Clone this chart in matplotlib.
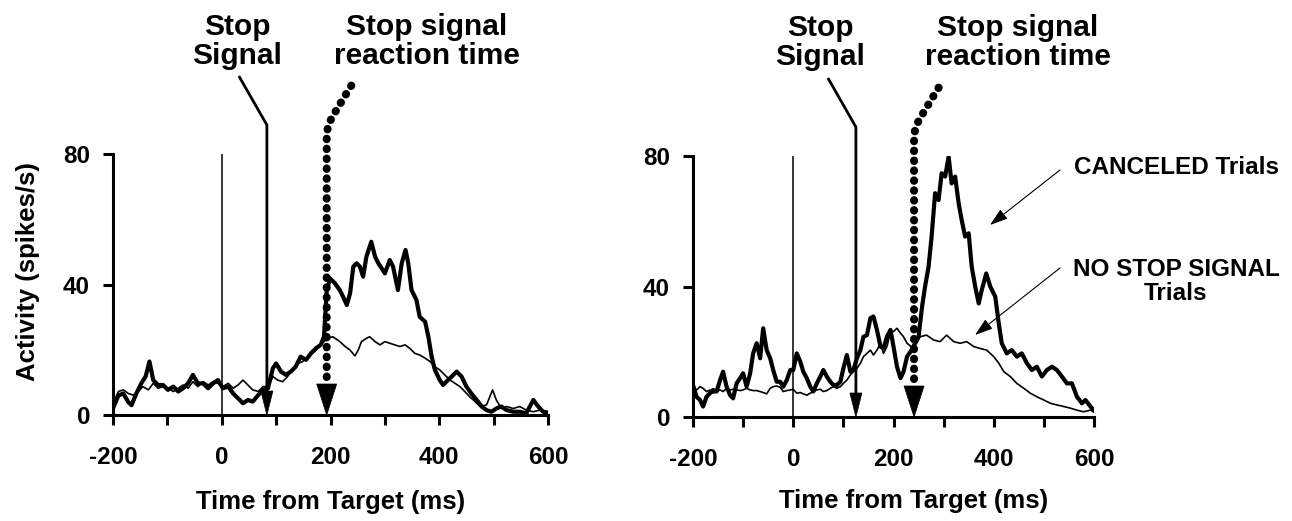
import matplotlib
matplotlib.use("Agg")
import matplotlib.pyplot as plt
from matplotlib.transforms import ScaledTranslation
from matplotlib.patches import Polygon, FancyArrowPatch
from matplotlib.lines import Line2D

plt.rcParams['font.family'] = ['Liberation Sans', 'DejaVu Sans']
plt.rcParams['font.weight'] = 'bold'

# ---------------- data ----------------
# Left panel: CANCELED trials (thick) and NO STOP SIGNAL trials (thin)
left_canc_t = [-200, -190, -181, -172, -166, -157, -148, -140, -133, -126, -117, -108, -99, -89, -80, -71,
               -62, -53, -44, -34, -25, -16, -7, 2, 12, 21, 30, 39, 48, 57, 67, 76, 85, 94, 100, 109, 118,
               127, 136, 145, 155, 164, 173, 182, 188, 193, 199, 208, 217, 223, 230, 236, 242, 248, 254,
               260, 266, 275, 282, 288, 294, 300, 309, 315, 324, 331, 338, 343, 349, 358, 364, 374, 380,
               386, 392, 401, 407, 413, 423, 432, 441, 450, 459, 469, 478, 487, 496, 505, 514, 524, 536,
               548, 560, 573, 582, 591, 600]
left_canc_v = [2, 6, 6.6, 4, 3, 6.6, 9.7, 11.8, 16.4, 10.7, 9.2, 9.2, 7.7, 8.7, 7.2, 8.2,
               9.7, 12.3, 9.7, 9.7, 8.2, 9.7, 10.7, 8.2, 8.7, 6.6, 5.1, 3.6, 4.6, 4.1, 6.1, 7.7, 8.2, 14.3,
               15.8, 13.3, 12.3, 13.3, 14.8, 17.9, 16.9, 18.9, 20.4, 21.5, 24, 38, 41.9, 40.4, 38.3, 36.3,
               33.7, 37.3, 45.5, 46.5, 45.5, 42.4, 48.5, 53.1, 48.5, 46.5, 45, 43.4, 47.5, 45.5, 38.3,
               46.5, 50.6, 46.5, 38.3, 35.3, 30.1, 28.6, 24, 17.9, 13.8, 10.7, 9.2, 10.2, 11.8, 13.3,
               11.8, 8.7, 6.6, 4.6, 2.6, 1.5, 1, 2, 2.6, 1.5, 1, 1, 0.5, 4.6, 2.6, 1, 0.7]

left_nss_t = [-200, -190, -181, -172, -163, -154, -145, -135, -126, -117, -108, -99, -89, -80, -71, -62,
              -53, -44, -34, -25, -16, -7, 2, 12, 21, 30, 39, 48, 57, 67, 76, 85, 94, 103, 112, 121, 130,
              140, 149, 158, 167, 176, 185, 195, 204, 213, 217, 227, 236, 245, 251, 257, 266, 272, 282,
              291, 300, 309, 318, 328, 337, 346, 355, 364, 374, 383, 392, 401, 410, 420, 429, 438, 447,
              456, 466, 475, 487, 493, 498, 505, 514, 524, 536, 548, 560, 573, 585, 600]
left_nss_v = [3.6, 7.2, 7.7, 6.6, 6.1, 7.2, 8.7, 7.7, 9.7, 8.2, 8.7, 8.2, 7.2, 8.2, 9.2, 8.2,
              10.2, 8.7, 10.2, 9.2, 10.2, 9.7, 8.7, 9.7, 8.2, 9.2, 10.7, 9.2, 7.7, 7.2, 8.7, 8.7, 11.8,
              10.7, 10.2, 11.8, 13.8, 15.8, 16.4, 17.9, 18.9, 20.4, 22, 23.5, 24, 23, 22.5, 21, 19.9,
              18.1, 19.9, 22.5, 23.5, 24, 22.5, 21.5, 22.5, 22, 21.5, 21, 21.5, 20.4, 18.9, 18.4, 17.4,
              16.4, 14.8, 13.8, 12.3, 10.7, 9.7, 8.7, 7.2, 5.6, 4.1, 2.6, 3.1, 5.6, 7.7, 4.6, 2, 2.6,
              2, 2.6, 1.5, 1, 1.5, 1]

# Right panel
right_canc_t = [-200, -193, -186, -180, -173, -166, -160, -153, -146, -140, -133, -126, -120, -113, -106,
                -100, -93, -86, -80, -73, -66, -60, -53, -46, -40, -33, -26, -20, -13, -6, 0, 7, 14, 20,
                27, 34, 40, 47, 54, 60, 67, 74, 80, 87, 94, 100, 107, 114, 120, 127, 134, 140, 147, 154,
                160, 167, 174, 180, 187, 194, 200, 207, 214, 220, 227, 236, 243, 250, 257, 263, 270, 276,
                283, 290, 296, 303, 310, 316, 323, 330, 336, 343, 350, 356, 363, 370, 376, 385, 393, 403,
                410, 416, 426, 436, 446, 456, 466, 476, 486, 496, 506, 516, 526, 536, 546, 556, 566, 576,
                583, 593, 599]
right_canc_v = [9.8, 6.2, 5.2, 3.2, 6.2, 7.3, 8.3, 7.8, 11.3, 13.9, 9.3, 6.7, 5.7, 10.3, 11.9,
                13.4, 9.3, 13.4, 19.5, 22.6, 18, 27.2, 20.5, 18, 14.4, 10.8, 10.8, 9.3, 11.3, 14.4, 14.4,
                19.5, 17, 13.9, 11.9, 9.3, 7.8, 10.3, 12.4, 14.4, 12.4, 10.8, 9.8, 9.8, 10.8, 14.9, 19,
                13.9, 14.4, 18, 20.5, 24.6, 25.1, 30.3, 30.8, 26.7, 21.6, 21.1, 24.6, 26.7, 21.6, 15.4,
                11.9, 13.9, 18.5, 20.5, 22.6, 24.6, 33.8, 40, 46.1, 55.3, 68.6, 66.5, 74.7, 73.7, 79.8,
                71.6, 73.7, 65.5, 60.4, 55.3, 56.3, 46.1, 40, 34.8, 38.9, 44, 40, 36.9, 28.7, 22.6, 19.5,
                20.5, 18.5, 19.5, 16.5, 14.4, 15.4, 12.4, 14.4, 15.4, 14.4, 12.4, 10.3, 10.3, 6.2, 4.2,
                5.2, 3.2, 2.1]

right_nss_t = [-200, -193, -186, -180, -173, -166, -160, -153, -146, -140, -133, -126, -120, -113, -106,
               -100, -93, -86, -80, -73, -66, -60, -53, -46, -40, -33, -26, -20, -13, -6, 0, 7, 14, 20,
               27, 34, 40, 47, 54, 60, 67, 74, 80, 87, 94, 100, 107, 114, 120, 127, 134, 140, 147, 154,
               160, 167, 174, 180, 187, 194, 200, 207, 214, 220, 227, 240, 253, 266, 280, 293, 306, 320,
               333, 346, 360, 373, 386, 400, 410, 420, 433, 446, 460, 473, 486, 500, 513, 526, 540, 553,
               566, 579, 593, 600]
right_nss_v = [9.3, 8.3, 9.3, 8.8, 7.8, 8.3, 7.3, 7.8, 8.3, 7.8, 8.8, 8.3, 8.5, 8.3, 8.1,
               8.3, 8.8, 8.3, 8.1, 8.1, 7.8, 7.5, 7.1, 8.8, 9.3, 9.5, 9.1, 7.8, 8.1, 8.3, 8.5, 7.3, 7.5,
               7.1, 6.7, 7.3, 7.8, 8.3, 8.5, 7.8, 8.1, 8.8, 9.3, 8.8, 9.3, 10.3, 11.3, 12.9, 13.9, 14.9,
               16.5, 18.5, 19.5, 20.5, 19, 20.5, 22.6, 19.5, 21.6, 26.2, 26.2, 27.2, 25.7, 24.6, 22.6,
               21, 24.6, 25.1, 23.6, 23.1, 25.1, 23.1, 22.6, 23.1, 21.6, 21, 20.5, 18.5, 16.5, 13.9, 12.4,
               10.3, 8.8, 7.3, 6.2, 5.2, 4.2, 3.7, 3.2, 2.7, 2.1, 1.6, 2.1, 1.6]

x_ticks = [-200, -100, 0, 100, 200, 300, 400, 500, 600]
x_tick_labels = ['-200', '', '0', '', '200', '', '400', '', '600']
y_ticks = [0, 40, 80]
y_tick_labels = ['0', '40', '80']

stop_signal_left = 83      # ms
ssrt_left = 193            # ms
stop_signal_right = 125    # ms
ssrt_right = 241           # ms

xlabel = 'Time from Target (ms)'
ylabel = 'Activity (spikes/s)'

# ---------------- figure ----------------
W, H = 1292, 521
fig = plt.figure(figsize=(W / 100, H / 100), dpi=100)

def fig_rect(x0, y_bottom, w, h):
    return [x0 / W, 1 - y_bottom / H, w / W, h / H]

axL = fig.add_axes(fig_rect(113, 415, 435, 261))
axR = fig.add_axes(fig_rect(693, 417, 401, 261))

for ax in (axL, axR):
    ax.set_xlim(-200, 600)
    ax.set_ylim(0, 80)
    for s in ('top', 'right'):
        ax.spines[s].set_visible(False)
    for s in ('left', 'bottom'):
        ax.spines[s].set_linewidth(2.2)
    ax.set_xticks(x_ticks)
    ax.set_xticklabels(x_tick_labels)
    ax.set_yticks(y_ticks)
    ax.set_yticklabels(y_tick_labels)
    ax.tick_params(axis='both', direction='out', length=7.5, width=2.2, labelsize=17.5)
    ax.tick_params(axis='x', pad=15)
    ax.tick_params(axis='y', pad=9)
    for lab in ax.get_xticklabels() + ax.get_yticklabels():
        lab.set_fontweight('bold')
    ax.patch.set_alpha(0)
    ax.set_xlabel(xlabel, fontsize=18.5, fontweight='bold', va='baseline')
    # time-zero line
    ax.plot([0, 0], [0, 80], color='black', lw=1.1, zorder=2)

axL.xaxis.set_label_coords(0.5, -0.360)
axR.xaxis.set_label_coords(0.549, -0.349)
axL.set_ylabel(ylabel, fontsize=18.5, fontweight='bold', va='center')
axL.yaxis.set_label_coords((28 - 113) / 435, (415 - 272) / 261)

axL.plot(left_nss_t, left_nss_v, color='black', lw=1.2, zorder=3)
axL.plot(left_canc_t, left_canc_v, color='black', lw=3.0, zorder=4)
axR.plot(right_nss_t, right_nss_v, color='black', lw=1.2, zorder=3)
axR.plot(right_canc_t, right_canc_v, color='black', lw=3.0, zorder=4)


def px_trans(ax, x, y):
    """offsets given in pixels/100 (inches) from data point (x, y)"""
    return fig.dpi_scale_trans + ScaledTranslation(x, y, ax.transData)


def draw_markers(ax, t_ss, t_ssrt):
    # Stop signal: solid line with diagonal lead and arrowhead at 0
    tr = px_trans(ax, t_ss, 0)
    pts = [(0, 22), (0, 290), (-28, 339)]
    ax.add_line(Line2D([p[0] / 100 for p in pts], [p[1] / 100 for p in pts], transform=tr,
                       color='black', lw=2.0, clip_on=False, zorder=6, solid_capstyle='butt'))
    ax.add_patch(Polygon([(0, 0), (-0.06, 0.24), (0.06, 0.24)], closed=True, transform=tr,
                         facecolor='black', edgecolor='black', lw=0.5, clip_on=False, zorder=6))
    # SSRT: dotted line, curved top, large arrowhead at 0
    tr2 = px_trans(ax, t_ssrt, 0)
    pts2 = [(0, 38), (0, 280), (1, 287), (4, 295), (8, 302), (12, 309), (16, 315), (20, 322), (25, 330)]
    ax.add_line(Line2D([p[0] / 100 for p in pts2], [p[1] / 100 for p in pts2], transform=tr2,
                       color='black', lw=5.8, linestyle=(0, (0.06, 1.17)), dash_capstyle='round',
                       clip_on=False, zorder=6))
    ax.add_patch(Polygon([(0, 0), (-0.10, 0.31), (0.10, 0.31)], closed=True, transform=tr2,
                         facecolor='black', edgecolor='black', lw=0.5, clip_on=False, zorder=6))


draw_markers(axL, stop_signal_left, ssrt_left)
draw_markers(axR, stop_signal_right, ssrt_right)

# header texts
def ftext(x, y, s, size, **kw):
    fig.text(x / W, 1 - y / H, s, fontsize=size, fontweight='bold', ha='center', va='baseline',
             multialignment='center', **kw)

ftext(237, 64, 'Stop\nSignal', 21.5, linespacing=1.05)
ftext(427, 64, 'Stop signal\nreaction time', 21.5, linespacing=1.05)
ftext(820, 65, 'Stop\nSignal', 21.5, linespacing=1.05)
ftext(1018, 65, 'Stop signal\nreaction time', 21.5, linespacing=1.05)

ftext(1177, 174, 'CANCELED Trials', 17.5)
ftext(1176, 300, 'NO STOP SIGNAL\nTrials', 17.5, linespacing=1.03)

# pointer arrows
for (x0, y0, x1, y1) in [(1060, 170, 990, 225), (1060, 268, 975, 335)]:
    fig.add_artist(FancyArrowPatch(
        (x0 / W, 1 - y0 / H), (x1 / W, 1 - y1 / H), transform=fig.transFigure,
        arrowstyle='-|>,head_length=11,head_width=3.6', mutation_scale=1,
        lw=0.8, color='black', shrinkA=0, shrinkB=0))

fig.savefig('out.png', dpi=100, facecolor='white')
